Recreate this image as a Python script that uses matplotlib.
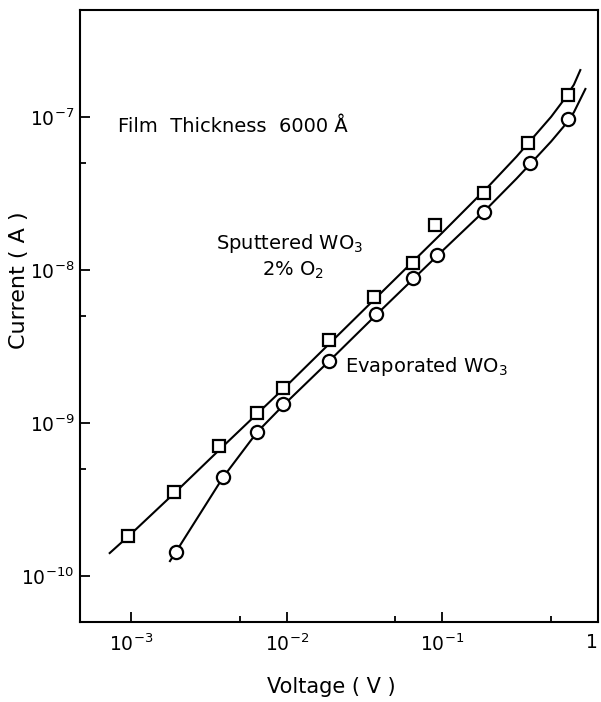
import matplotlib
matplotlib.use('Agg')
import matplotlib.pyplot as plt
from matplotlib.ticker import FixedLocator, NullFormatter

v_sput = [9.6e-4, 1.89e-3, 3.68e-3, 6.46e-3, 9.5e-3, 1.87e-2, 3.66e-2, 6.5e-2, 9.0e-2, 0.184, 0.357, 0.637]
i_sput = [1.82e-10, 3.56e-10, 7.1e-10, 1.16e-9, 1.69e-9, 3.46e-9, 6.68e-9, 1.11e-8, 1.96e-8, 3.2e-8, 6.78e-8, 1.39e-7]

v_evap = [1.94e-3, 3.9e-3, 6.46e-3, 9.5e-3, 1.87e-2, 3.76e-2, 6.5e-2, 9.29e-2, 0.184, 0.368, 0.637]
i_evap = [1.43e-10, 4.4e-10, 8.75e-10, 1.33e-9, 2.53e-9, 5.18e-9, 8.87e-9, 1.25e-8, 2.38e-8, 4.96e-8, 9.7e-8]

# hand drawn guide curves
v_sput_fit = [7.3e-4, 1e-3, 2e-3, 4e-3, 1e-2, 2e-2, 4e-2, 0.1, 0.2, 0.3, 0.4, 0.5, 0.6, 0.7, 0.77]
i_sput_fit = [1.41e-10, 1.88e-10, 3.65e-10, 7.2e-10, 1.75e-9, 3.5e-9, 7.0e-9, 1.75e-8, 3.55e-8, 5.5e-8, 7.7e-8, 1.0e-7, 1.28e-7, 1.62e-7, 2.02e-7]

v_evap_fit = [1.78e-3, 1.94e-3, 3.9e-3, 6.46e-3, 9.5e-3, 2e-2, 4e-2, 0.1, 0.2, 0.3, 0.4, 0.5, 0.6, 0.7, 0.83]
i_evap_fit = [1.25e-10, 1.43e-10, 4.4e-10, 8.7e-10, 1.3e-9, 2.7e-9, 5.4e-9, 1.33e-8, 2.6e-8, 3.95e-8, 5.4e-8, 6.9e-8, 8.6e-8, 1.07e-7, 1.52e-7]

xticks = [1e-3, 1e-2, 1e-1, 1]
xlabels = [r'$10^{-3}$', r'$10^{-2}$', r'$10^{-1}$', '1']
yticks = [1e-10, 1e-9, 1e-8, 1e-7]
ylabels = [r'$10^{-10}$', r'$10^{-9}$', r'$10^{-8}$', r'$10^{-7}$']

fig = plt.figure(figsize=(6.01, 7.02), dpi=100)
ax = fig.add_axes([0.133, 0.114, 0.862, 0.872])

ax.plot(v_sput_fit, i_sput_fit, color='black', lw=1.5)
ax.plot(v_evap_fit, i_evap_fit, color='black', lw=1.5)
ax.plot(v_sput, i_sput, 's', ms=9, mfc='white', mec='black', mew=1.6)
ax.plot(v_evap, i_evap, 'o', ms=9.5, mfc='white', mec='black', mew=1.6)

ax.set_xscale('log')
ax.set_yscale('log')
ax.set_xlim(4.7e-4, 1)
ax.set_ylim(5e-11, 5e-7)

ax.xaxis.set_major_locator(FixedLocator(xticks))
ax.set_xticklabels(xlabels)
ax.get_xticklabels()[-1].set_horizontalalignment('right')
ax.xaxis.set_minor_locator(FixedLocator([5e-3, 5e-2, 5e-1]))
ax.xaxis.set_minor_formatter(NullFormatter())
ax.yaxis.set_major_locator(FixedLocator(yticks))
ax.set_yticklabels(ylabels)
ax.yaxis.set_minor_locator(FixedLocator([5e-10, 5e-9, 5e-8]))
ax.yaxis.set_minor_formatter(NullFormatter())

ax.tick_params(which='both', direction='in', width=1.3, labelsize=13.5)
ax.tick_params(axis='x', which='major', length=7, pad=8)
ax.tick_params(axis='y', which='major', length=7, pad=4)
ax.tick_params(which='minor', length=4)
for s in ['top', 'right', 'left', 'bottom']:
    ax.spines[s].set_linewidth(1.5)

ax.set_xlabel('Voltage ( V )', fontsize=15)
ax.set_ylabel('Current ( A )', fontsize=16)
ax.xaxis.set_label_coords(0.486, -0.09)
ax.yaxis.set_label_coords(-0.099, 0.559)

ax.text(0.073, 0.809, 'Film  Thickness  6000 Å', transform=ax.transAxes, fontsize=14, va='center')
ax.text(0.263, 0.618, 'Sputtered WO$_3$', transform=ax.transAxes, fontsize=14, va='center')
ax.text(0.351, 0.575, '2% O$_2$', transform=ax.transAxes, fontsize=14, va='center')
ax.text(0.512, 0.418, 'Evaporated WO$_3$', transform=ax.transAxes, fontsize=14, va='center')

plt.savefig('out.png', dpi=100)
